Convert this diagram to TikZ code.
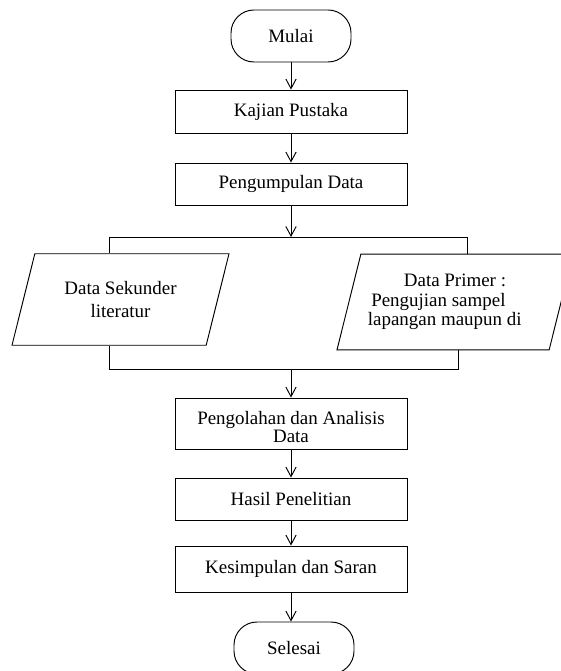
\documentclass[tikz,border=0pt]{standalone}
\usepackage{fontspec}
\setmainfont{Liberation Serif}
\usetikzlibrary{arrows.meta,shapes.geometric}

\def\satuan{0.633pt}
\tikzset{
  kotak/.style={draw, line width=0.6pt, minimum width=232*\satuan, align=center, inner sep=0pt},
  terminal/.style={draw, line width=0.6pt, rounded corners=23*\satuan, minimum width=120*\satuan, minimum height=52*\satuan, inner sep=0pt},
  jajar/.style={draw, line width=0.6pt, trapezium, trapezium left angle=76, trapezium right angle=104, trapezium stretches body, align=center, inner xsep=0pt},
  panah/.style={line width=0.6pt, -{Straight Barb[length=6pt,width=6.5pt]}},
  garis/.style={line width=0.6pt}
}

\begin{document}
\begin{tikzpicture}[x=\satuan, y=-\satuan, every node/.style={font=\fontsize{12}{14.5}\selectfont}]
			%%%%% START %%%%%
			\useasboundingbox (0,0) rectangle (561,671);
			
			\node[terminal] (mulai) at (291,36) {Mulai};
			\node[kotak, minimum height=43*\satuan] (kajian) at (291,111.5) {Kajian Pustaka};
			\node[kotak, minimum height=42*\satuan] (kumpul) at (291,184) {Pengumpulan Data};
			
			\coordinate (cabang) at (291,237);
			\coordinate (cabKiri) at (109,237);
			\coordinate (cabKanan) at (467,237);
			
			\node[jajar, minimum width=217*\satuan, inner ysep=17.5pt] (sekunder) at (120.5,299.5) {Data Sekunder\\literatur};
			\node[jajar, minimum width=236*\satuan, inner ysep=12.5pt, font=\fontsize{12}{12.5}\selectfont] (primer) at (455,302) {Data Primer :\\Pengujian sampel\kern21pt\\lapangan maupun di\kern13pt};
			
			\coordinate (gabung) at (291,369);
			\coordinate (gabKiri) at (109,369);
			\coordinate (gabKanan) at (458,369);
			
			\node[kotak, minimum height=51*\satuan, font=\fontsize{12}{11}\selectfont] (olah) at (291,423.5) {\rule{0pt}{13pt}Pengolahan dan Analisis\\Data};
			\node[kotak, minimum height=42*\satuan] (hasil) at (291,499) {Hasil Penelitian};
			\node[kotak, minimum height=46*\satuan] (simpul) at (291,569) {Kesimpulan dan Saran};
			\node[terminal] (selesai) at (294,648) {Selesai};
			
			\draw[panah] (mulai) -- (kajian);
			\draw[panah] (kajian) -- (kumpul);
			\draw[panah] (kumpul) -- (cabang);
			
			\draw[garis] (cabKiri) -- (cabKanan);
			\draw[garis] (cabKiri) -- (cabKiri |- sekunder.north);
			\draw[garis] (cabKanan) -- (cabKanan |- primer.north);
			
			\draw[garis] (sekunder.south -| gabKiri) -- (gabKiri) -- (gabKanan) -- (primer.south -| gabKanan);
			\draw[panah] (gabung) -- (olah);
			
			\draw[panah] (olah) -- (hasil);
			\draw[panah] (hasil) -- (simpul);
			\draw[panah] (simpul.south) -- (simpul.south |- selesai.north);
			
			%%%%% END %%%%%
\end{tikzpicture}
\end{document}
